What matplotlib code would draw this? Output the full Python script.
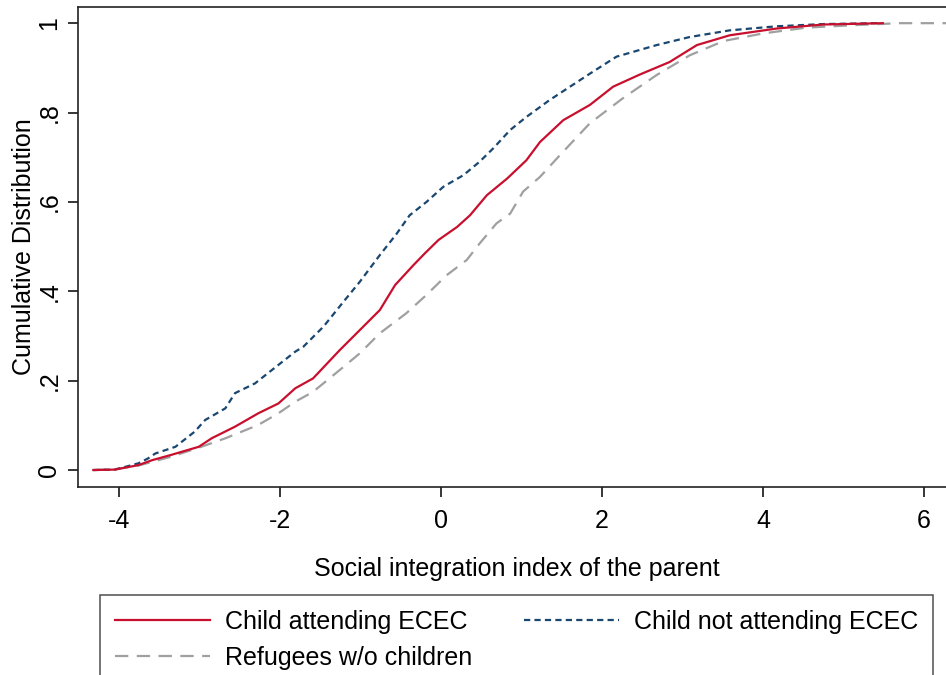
import matplotlib.pyplot as plt
import numpy as np

plt.rcParams['font.family'] = ['Liberation Sans', 'DejaVu Sans']

# values (x = social integration index, y = cumulative share)
x_attend = [-4.32, -4.05, -3.76, -3.59, -3.35, -3.01, -2.85, -2.56, -2.27, -2.02, -1.81,
            -1.59, -1.26, -1.01, -0.76, -0.57, -0.34, -0.20, -0.03, 0.20, 0.36, 0.57,
            0.82, 1.06, 1.23, 1.52, 1.85, 2.14, 2.47, 2.84, 3.18, 3.59, 4.17, 4.75, 5.49]
y_attend = [0.0, 0.001, 0.011, 0.022, 0.034, 0.052, 0.071, 0.097, 0.127, 0.149, 0.183,
            0.205, 0.268, 0.313, 0.358, 0.414, 0.459, 0.485, 0.515, 0.544, 0.570, 0.615,
            0.652, 0.693, 0.734, 0.783, 0.817, 0.858, 0.885, 0.913, 0.951, 0.973, 0.988, 0.997, 1.0]

x_not = [-4.32, -4.05, -3.76, -3.64, -3.55, -3.30, -3.06, -2.93, -2.68, -2.56, -2.31,
         -2.10, -1.81, -1.71, -1.46, -1.21, -1.01, -0.76, -0.55, -0.39, -0.18, 0.03,
         0.28, 0.48, 0.65, 0.86, 1.06, 1.35, 1.85, 2.18, 2.68, 3.09, 3.59, 4.17, 4.75, 5.43]
y_not = [0.0, 0.001, 0.015, 0.026, 0.037, 0.052, 0.086, 0.112, 0.138, 0.172, 0.194,
         0.224, 0.265, 0.276, 0.321, 0.377, 0.421, 0.481, 0.529, 0.570, 0.600, 0.634,
         0.660, 0.690, 0.720, 0.761, 0.790, 0.828, 0.887, 0.925, 0.951, 0.969, 0.984, 0.993, 0.998, 1.0]

x_nochild = [-4.32, -4.05, -3.76, -3.35, -3.01, -2.68, -2.27, -2.02, -1.81, -1.59, -1.21,
             -1.01, -0.76, -0.43, -0.18, 0.07, 0.32, 0.48, 0.69, 0.86, 1.02, 1.23, 1.48,
             1.85, 2.26, 2.68, 3.09, 3.51, 4.0, 4.54, 5.18, 5.7, 6.5]
y_nochild = [0.0, 0.002, 0.010, 0.030, 0.050, 0.071, 0.101, 0.127, 0.153, 0.175, 0.231,
             0.261, 0.306, 0.351, 0.392, 0.436, 0.470, 0.507, 0.552, 0.574, 0.623, 0.656, 0.705,
             0.776, 0.832, 0.884, 0.928, 0.960, 0.977, 0.990, 0.996, 1.0, 1.0]

labels = ['Child attending ECEC', 'Child not attending ECEC', 'Refugees w/o children']
xticks = [-4, -2, 0, 2, 4, 6]
yticks = [0, 0.2, 0.4, 0.6, 0.8, 1.0]
yticklabels = ['0', '.2', '.4', '.6', '.8', '1']

fig = plt.figure(figsize=(9.46, 6.75), dpi=100)
ax = fig.add_axes([0.0825, 0.2785, 1.0106 - 0.0825, 0.711])

l1, = ax.plot(x_attend, y_attend, color='#c8102e', lw=1.6, zorder=3)
l2, = ax.plot(x_not, y_not, color='#1a476f', lw=1.6, dashes=(2.8, 1.9), zorder=2)
l3, = ax.plot(x_nochild, y_nochild, color='#a0a0a0', lw=1.6, dashes=(6, 3.8), zorder=1)

ax.set_xlim(-4.51, 6.4)
ax.set_ylim(-0.038, 1.036)
ax.set_xticks(xticks)
ax.set_xticklabels([str(t) for t in xticks])
ax.set_yticks(yticks)
ax.set_yticklabels(yticklabels, rotation=90, va='center')
ax.tick_params(axis='both', direction='out', length=7, width=1.1, labelsize=18)
ax.tick_params(axis='x', pad=9)
ax.tick_params(axis='y', pad=5)
for s in ax.spines.values():
    s.set_linewidth(1.2)
    s.set_color('#222222')

ax.set_xlabel('Social integration index of the parent', fontsize=18, labelpad=17)
ax.set_ylabel('Cumulative Distribution', fontsize=18, labelpad=1)

# column-first fill: put the third entry under the first
leg = fig.legend([l1, l3, l2], [labels[0], labels[2], labels[1]],
                 loc='upper left', bbox_to_anchor=(0.106, -0.3, 0.88, 0.4185),
                 mode='expand', ncol=2, fontsize=18, frameon=True, fancybox=False,
                 handlelength=3.8, handletextpad=0.6, labelspacing=0.47,
                 borderpad=0.6, borderaxespad=0.0)
leg.get_frame().set_edgecolor('#222222')
leg.get_frame().set_linewidth(1.1)

fig.savefig('out.png', dpi=100)
